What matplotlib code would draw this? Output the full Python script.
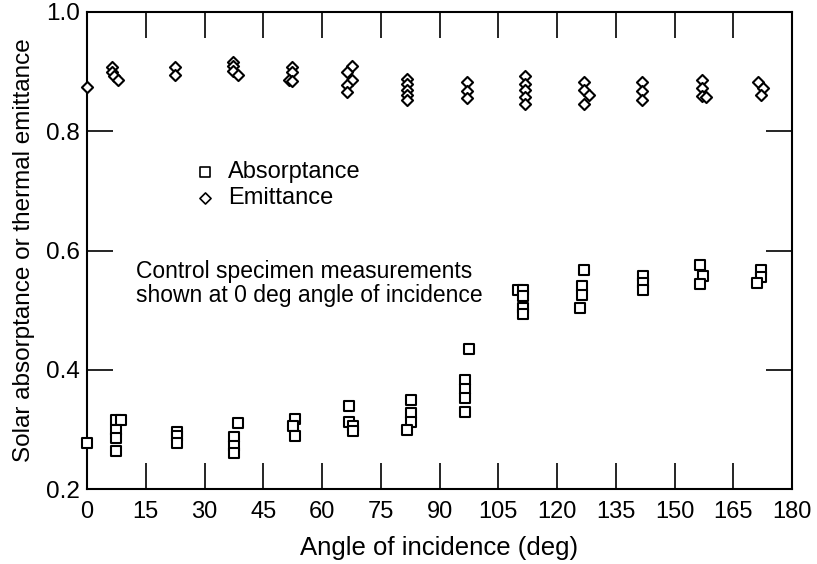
import matplotlib
matplotlib.use("Agg")
import matplotlib.pyplot as plt

plt.rcParams['font.family'] = ['Liberation Sans', 'DejaVu Sans']

# Emittance data (angle, value)
emit_angle = [0,
              6.3, 6.3, 7.0, 8.0,
              22.5, 22.5,
              37.2, 37.2, 37.2, 38.6,
              52.3, 52.3, 51.6, 52.3,
              67.6, 66.3, 67.6, 66.3, 66.3,
              81.6, 81.6, 81.6, 81.6, 81.6,
              96.9, 96.9, 96.9,
              111.8, 111.8, 111.8, 111.8, 111.8,
              127.0, 127.0, 128.2, 127.0,
              141.6, 141.6, 141.6,
              156.9, 156.9, 156.9, 158.0,
              171.4, 172.7, 172.0]
emit_value = [0.874,
              0.908, 0.900, 0.893, 0.886,
              0.908, 0.894,
              0.916, 0.909, 0.901, 0.895,
              0.908, 0.900, 0.886, 0.885,
              0.909, 0.899, 0.886, 0.877, 0.866,
              0.887, 0.879, 0.870, 0.861, 0.853,
              0.882, 0.867, 0.855,
              0.892, 0.880, 0.869, 0.858, 0.846,
              0.882, 0.869, 0.860, 0.846,
              0.882, 0.868, 0.853,
              0.886, 0.872, 0.859, 0.858,
              0.883, 0.872, 0.860]

# Absorptance data (angle, value)
abs_angle = [0,
             7.4, 8.7, 7.4, 7.4, 7.4,
             23.0, 23.0, 23.0,
             38.6, 37.5, 37.5, 37.5,
             53.1, 52.5, 53.1,
             67.0, 67.0, 67.8, 67.8,
             82.6, 82.6, 82.6, 81.8,
             97.6, 96.5, 96.5, 96.5, 96.5,
             110.1, 111.4, 111.4, 111.4, 111.4,
             126.9, 126.5, 126.5, 125.9,
             141.9, 141.9, 141.9,
             156.5, 157.2, 156.5,
             172.2, 172.2, 171.1]
abs_value = [0.277,
             0.315, 0.315, 0.299, 0.285, 0.264,
             0.296, 0.289, 0.277,
             0.311, 0.287, 0.272, 0.261,
             0.318, 0.305, 0.289,
             0.340, 0.313, 0.305, 0.298,
             0.350, 0.328, 0.313, 0.299,
             0.435, 0.382, 0.368, 0.353, 0.329,
             0.533, 0.533, 0.524, 0.504, 0.493,
             0.567, 0.541, 0.526, 0.504,
             0.558, 0.546, 0.533,
             0.575, 0.558, 0.543,
             0.568, 0.556, 0.546]

x_ticks = [0, 15, 30, 45, 60, 75, 90, 105, 120, 135, 150, 165, 180]
y_ticks = [0.2, 0.4, 0.6, 0.8, 1.0]

fig = plt.figure(figsize=(8.17, 5.64), dpi=100)
ax = fig.add_axes([87/817, 1-489/564, (792-87)/817, (489-12)/564])

ax.scatter(abs_angle, abs_value, marker='s', s=58, facecolors='white',
           edgecolors='black', linewidths=1.5, clip_on=False, zorder=3)
ax.scatter(emit_angle, emit_value, marker='D', s=32, facecolors='white',
           edgecolors='black', linewidths=1.5, clip_on=False, zorder=3)

ax.set_xlim(0, 180)
ax.set_ylim(0.2, 1.0)
ax.set_xticks(x_ticks)
ax.set_xticklabels([str(t) for t in x_ticks])
ax.set_yticks(y_ticks)
ax.set_yticklabels(['%.1f' % t for t in y_ticks])
ax.tick_params(axis='both', direction='in', length=19, width=1.2,
               top=True, right=True)
ax.tick_params(axis='x', labelsize=17, pad=9)
ax.tick_params(axis='y', labelsize=17.5, pad=5)
for sp in ax.spines.values():
    sp.set_linewidth(1.5)

ax.set_xlabel('Angle of incidence (deg)', fontsize=18.5, labelpad=9)
ax.set_ylabel('Solar absorptance or thermal emittance', fontsize=17.5, labelpad=8)

# legend-like annotation
ax.scatter([30.2], [0.8 + (131.7-172)/596], marker='s', s=55, facecolors='white',
           edgecolors='black', linewidths=1.2)
ax.scatter([30.2], [0.8 + (131.7-198)/596], marker='D', s=32, facecolors='white',
           edgecolors='black', linewidths=1.2)
ax.text(36.0, 0.8 + (131.7-172)/596, 'Absorptance', fontsize=17, va='center', ha='left')
ax.text(36.0, 0.8 + (131.7-198)/596, 'Emittance', fontsize=17, va='center', ha='left')

ax.text(12.5, 0.8 + (131.7-272)/596, 'Control specimen measurements',
        fontsize=16.5, va='center', ha='left')
ax.text(12.5, 0.8 + (131.7-296)/596, 'shown at 0 deg angle of incidence',
        fontsize=16.5, va='center', ha='left')

fig.savefig('out.png', dpi=100)
